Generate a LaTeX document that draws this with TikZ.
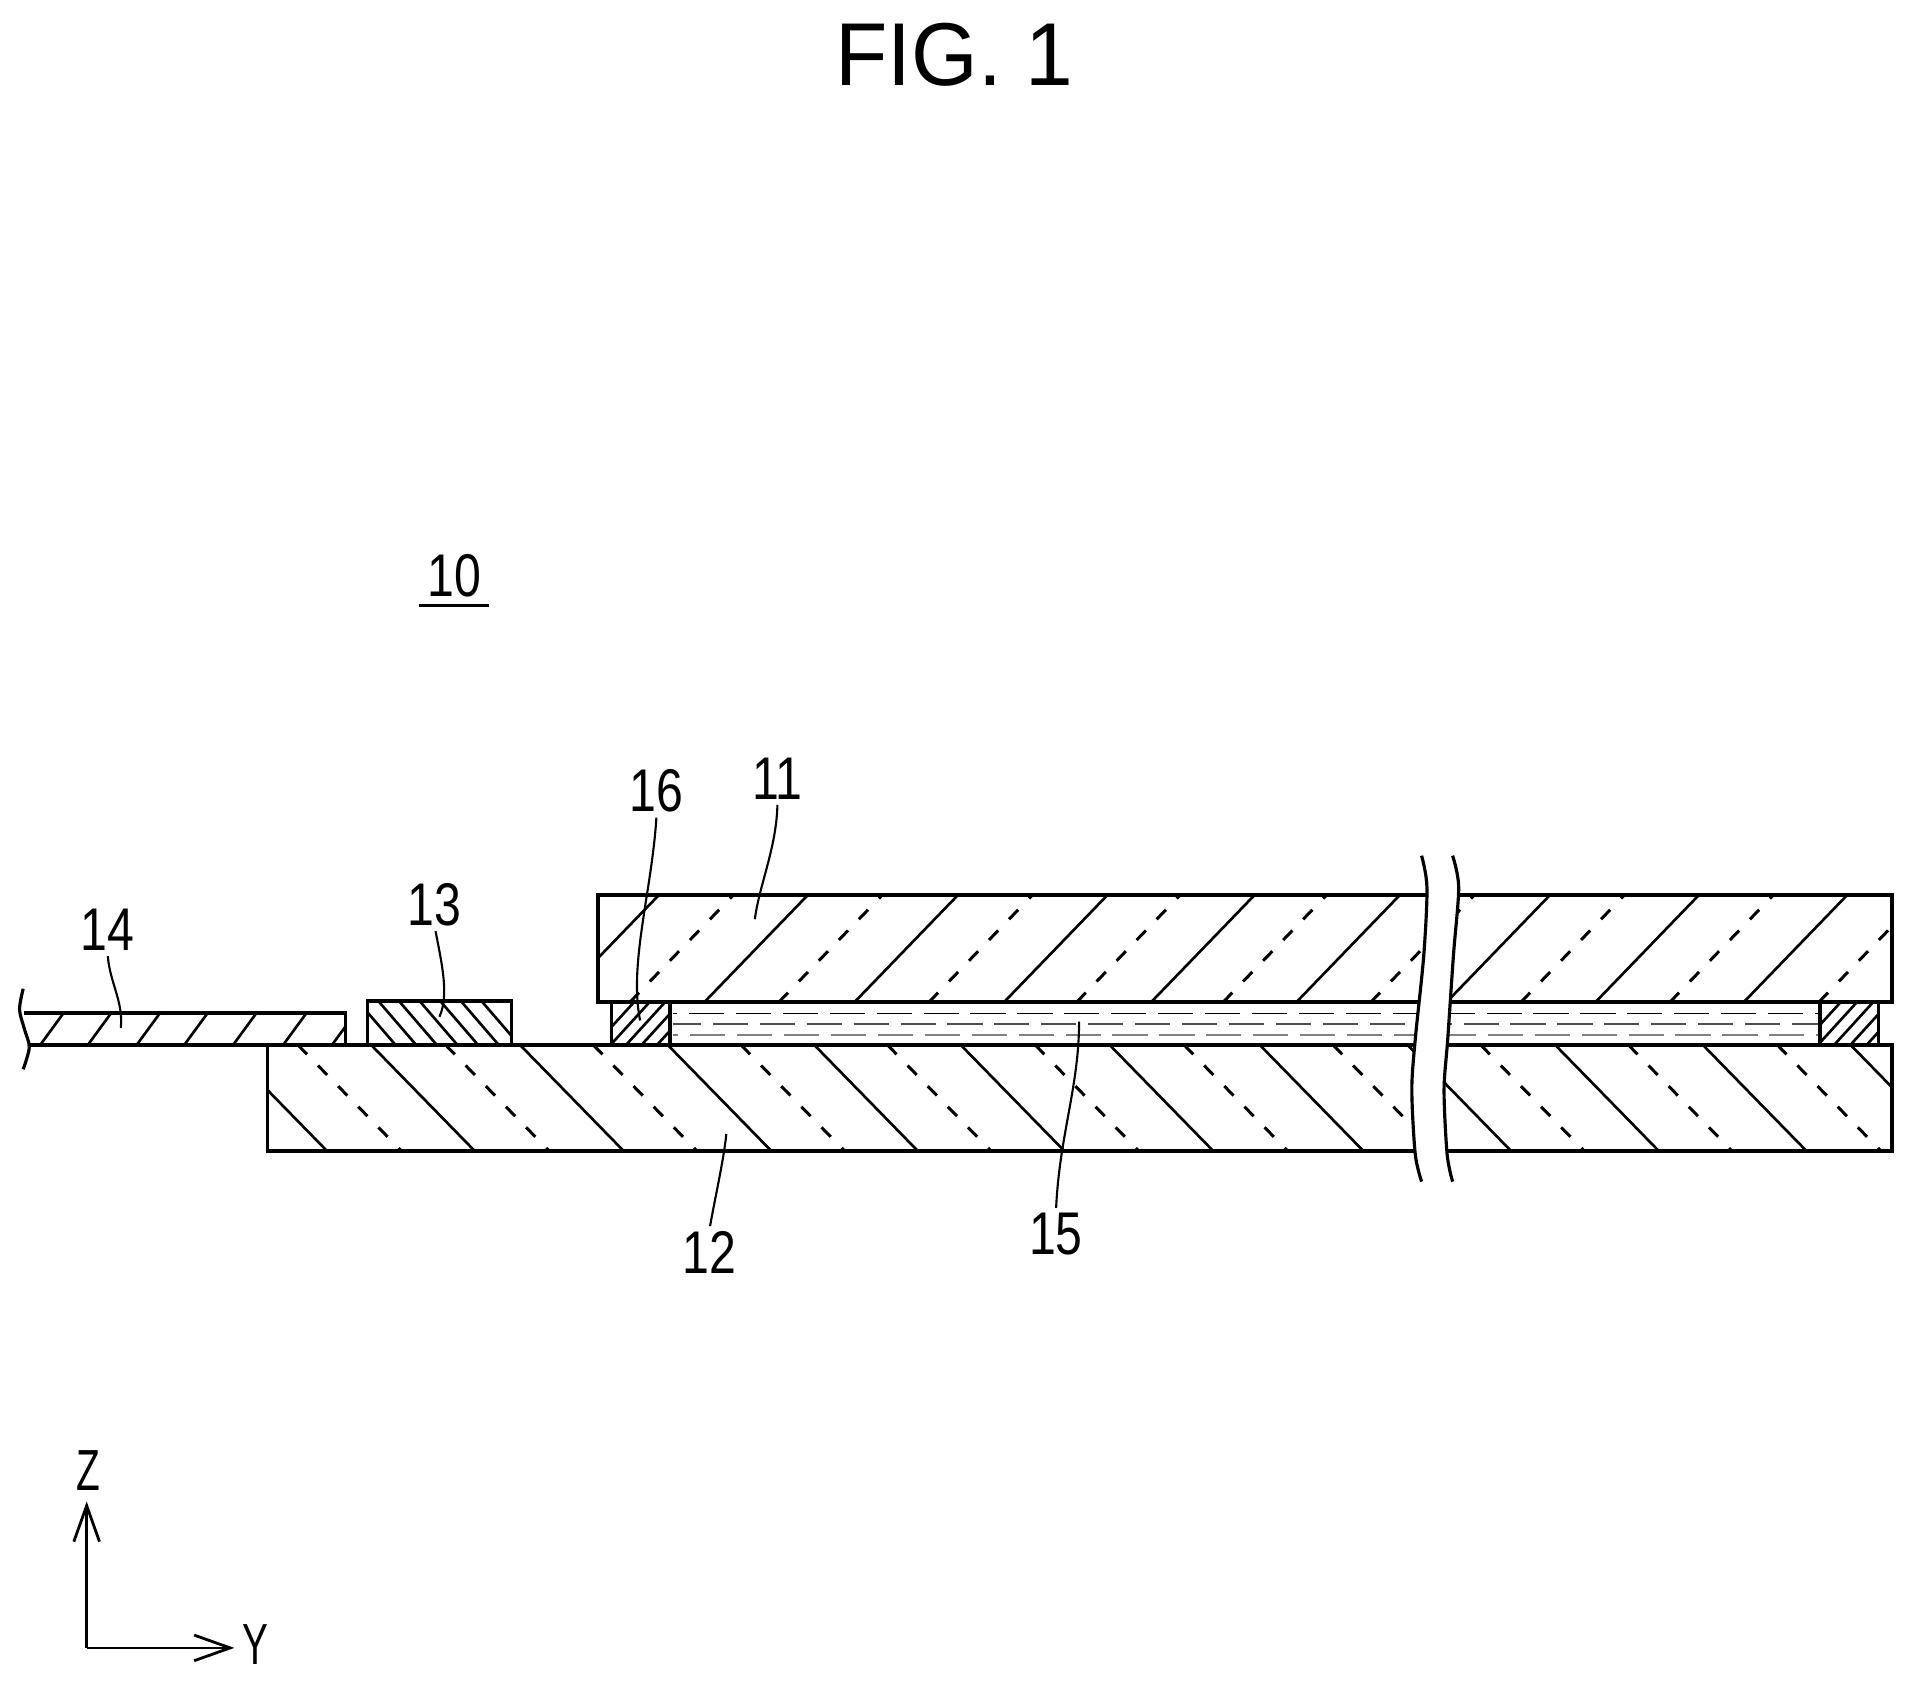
\documentclass[tikz,border=0pt]{standalone}
\usepackage{fontspec}
\usepackage{graphicx}
\setmainfont{Liberation Sans}
\usetikzlibrary{arrows.meta}
\newcommand{\reftxt}[1]{\scalebox{.8}[1]{\fontsize{34.3}{36}\selectfont #1}}
\newcommand{\axtxt}[1]{\scalebox{.67}[1]{\fontsize{33}{36}\selectfont #1}}
\tikzset{
  outline/.style={line width=2pt,line join=miter},
  hatchline/.style={line width=1.5pt},
  dashline/.style={line width=1.7pt,dash pattern=on 7.5pt off 8.9pt},
  leader/.style={line width=1.2pt,shorten <=3pt},
  breakline/.style={line width=1.8pt},
  reflabel/.style={inner sep=0pt,outer sep=0pt},
  axisline/.style={line width=1.6pt,-{Straight Barb[length=20.5pt,width=14.6pt,line width=1.6pt]}}
}
\begin{document}
\begin{tikzpicture}[x=0.024413cm,y=-0.024413cm]
\useasboundingbox (0,0) rectangle (1568,1380.4);
\fill[white] (0,0) rectangle (1568,1380.4);

% title
\node[reflabel] (title) at (782,45) {\scalebox{.96}[1]{\fontsize{50.8}{54}\selectfont FIG. 1}};

% panel 11
\begin{scope}
\clip (490,733) rectangle (1550,821);
\foreach \b in {455,577,700,822.5,943,1062,1185,1307,1428.5}
  \draw[hatchline] (\b,821) -- (\b+85,733);
\foreach \b in {516,638,761,882,1002,1123,1246,1368,1490}
  \draw[dashline] (\b,821) -- (\b+85,733);
\end{scope}
\draw[outline] (490,733) rectangle (1550,821);

% panel 12
\begin{scope}
\clip (219,856) rectangle (1550,943);
\foreach \t in {183,304,426,547,667,787,909,1032,1153,1274,1395,1516}
  \draw[hatchline] (\t,856) -- (\t+85,943);
\foreach \t in {244,365,486,607,727,848,970,1092,1213,1334,1456}
  \draw[dashline] (\t,856) -- (\t+85,943);
\end{scope}
\draw[outline] (219,856) rectangle (1550,943);

% liquid layer 15
\draw[line width=.7pt,dash pattern=on 20pt off 6.7pt,dash phase=17.4pt] (551,830) -- (1491,830);
\draw[line width=1pt,black!70,dash pattern=on 20pt off 6.7pt,dash phase=3.8pt] (551,839) -- (1491,839);
\draw[line width=.9pt,black!50,dash pattern=on 20pt off 6.7pt,dash phase=16.7pt] (551,848) -- (1491,848);

% seal 16 left
\begin{scope}
\clip (501,821) rectangle (549,856);
\foreach \k in {0,...,5}
  \draw[hatchline] (487.5+12.7*\k,856) -- (518.5+12.7*\k,822);
\end{scope}
\draw[outline] (501,856) -- (501,821) (549,821) -- (549,856);
% seal right
\begin{scope}
\clip (1491,821) rectangle (1539,856);
\foreach \k in {0,...,5}
  \draw[hatchline] (1476+13.3*\k,856) -- (1507+13.3*\k,822);
\end{scope}
\draw[outline] (1491,856) -- (1491,821) (1539,821) -- (1539,856);

% chip 13
\begin{scope}
\clip (301,820) rectangle (419,856);
\foreach \k in {0,...,6}
  \draw[hatchline] (293+16.9*\k,820) -- (324+16.9*\k,856);
\end{scope}
\draw[outline] (301,856) -- (301,820) -- (419,820) -- (419,856);

% flexible board 14
\begin{scope}
\clip (20,830) -- (283,830) -- (283,856) -- (24,856) -- cycle;
\foreach \b in {33,72,112,151,191,232,272}
  \draw[hatchline] (\b,856) -- (\b+19,830);
\end{scope}
\draw[outline] (20,830) -- (283,830) -- (283,856);
\draw[outline] (24,856) -- (1550,856);
\draw[breakline] plot[smooth] coordinates {(19,810) (16,827) (20,843) (24,858) (19,876)};

% break in the panels
\fill[white] plot[smooth] coordinates {(1164.6,701) (1169,727) (1166.4,782.5) (1159.4,851.5) (1156.6,893) (1159.4,945.5) (1164.6,968)}
  -- plot[smooth] coordinates {(1190,968) (1185.5,945.5) (1183,893) (1186,851.5) (1190.7,782.5) (1195,727) (1190,701)} -- cycle;
\draw[breakline] plot[smooth] coordinates {(1164.6,701) (1169,727) (1166.4,782.5) (1159.4,851.5) (1156.6,893) (1159.4,945.5) (1164.6,968)};
\draw[breakline] plot[smooth] coordinates {(1190,701) (1195,727) (1190.7,782.5) (1186,851.5) (1183,893) (1185.5,945.5) (1190,968)};

% labels
\node[reflabel] (l10) at (372,472) {\reftxt{10}};
\node[reflabel] (l11) at (637,638) {\reftxt{11}};
\node[reflabel] (l16) at (538,648) {\reftxt{16}};
\node[reflabel] (l13) at (356,741) {\reftxt{13}};
\node[reflabel] (l14) at (88,762) {\reftxt{14}};
\node[reflabel] (l12) at (581,1026) {\reftxt{12}};
\node[reflabel] (l15) at (865,1011) {\reftxt{15}};
\coordinate (u10a) at (343,496);
\coordinate (u10b) at (401,496);
\draw[line width=1.4pt] (u10a) -- (u10b);

% leaders
\coordinate (e16) at (524.4,836);
\coordinate (e13) at (360,833);
\coordinate (e14) at (99,842);
\coordinate (e11) at (618.4,753);
\coordinate (e12) at (595,929);
\coordinate (e15) at (884,837);
\draw[leader] (l16.south) .. controls (534,730) and (515,790) .. (e16);
\draw[leader] (l13.south) .. controls (362,790) and (368,815) .. (e13);
\draw[leader] (l14.south) .. controls (90,805) and (101,820) .. (e14);
\draw[leader] (l11.south) .. controls (636,695) and (622,725) .. (e11);
\draw[leader] (l12.north) .. controls (585,985) and (593,950) .. (e12);
\draw[leader] (l15.north) .. controls (868,930) and (884,890) .. (e15);

% axes
\coordinate (org) at (71,1350);
\coordinate (ztip) at (71,1230);
\coordinate (ytip) at (192,1350);
\draw[axisline] (org) -- (ztip);
\draw[axisline] (org) -- (ytip);
\node[reflabel] (zlab) at (72,1205) {\axtxt{Z}};
\node[reflabel] (ylab) at (209,1347) {\axtxt{Y}};
\end{tikzpicture}
\end{document}
